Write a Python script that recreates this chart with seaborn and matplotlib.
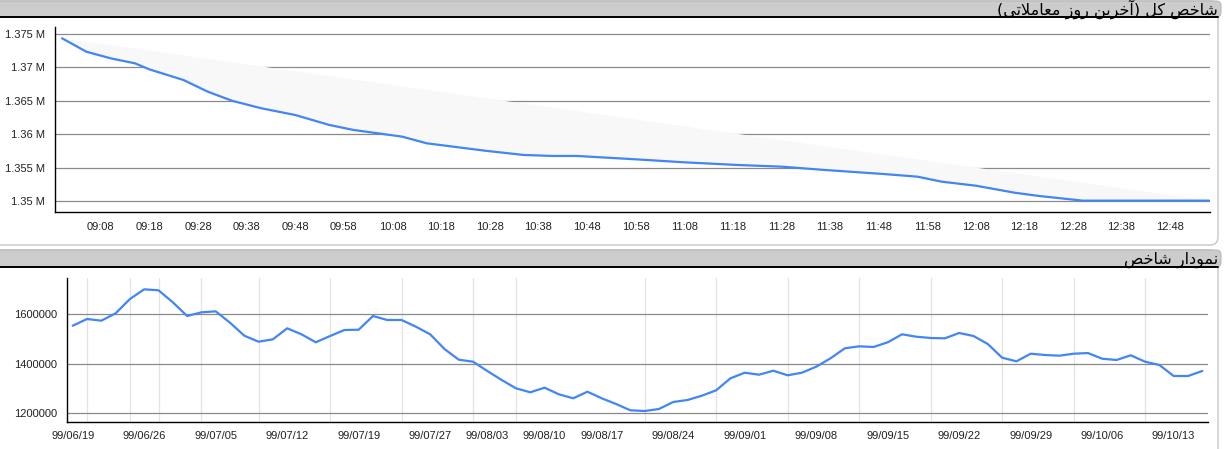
import numpy as np
import pandas as pd
import matplotlib
matplotlib.use("Agg")
import matplotlib.pyplot as plt
import seaborn as sns
from matplotlib.patches import FancyBboxPatch
from matplotlib.lines import Line2D
from matplotlib.transforms import IdentityTransform
from matplotlib.ticker import FuncFormatter

# intraday index (last trading day)
intraday_time = ["09:00", "09:05", "09:10", "09:15", "09:18", "09:25", "09:30", "09:35",
                 "09:41", "09:48", "09:55", "10:00", "10:10", "10:15", "10:27", "10:35",
                 "10:41", "10:46", "10:58", "11:08", "11:19", "11:28", "11:37", "11:49",
                 "11:56", "12:01", "12:08", "12:16", "12:21", "12:30", "12:56"]
intraday_value = [1374360, 1372350, 1371360, 1370610, 1369700, 1368110, 1366360, 1365000,
                  1363880, 1362870, 1361380, 1360630, 1359630, 1358640, 1357530, 1356890,
                  1356740, 1356740, 1356240, 1355790, 1355390, 1355140, 1354640, 1354040,
                  1353640, 1352890, 1352290, 1351240, 1350750, 1350050, 1350050]
intraday_ticks = ["09:08", "09:18", "09:28", "09:38", "09:48", "09:58", "10:08", "10:18",
                  "10:28", "10:38", "10:48", "10:58", "11:08", "11:18", "11:28", "11:38",
                  "11:48", "11:58", "12:08", "12:18", "12:28", "12:38", "12:48"]

# daily index, one value per trading day
daily_value = [1553900, 1581000, 1574200, 1604000, 1661800, 1701000, 1697000, 1648500,
               1593100, 1608000, 1612000, 1566100, 1513600, 1489300, 1499000, 1543400,
               1519200, 1486900, 1512300, 1536600, 1537800, 1593100, 1577000, 1577000,
               1550000, 1519200, 1459800, 1416600, 1408500, 1370900, 1334600, 1301000,
               1284900, 1303500, 1276800, 1260600, 1287300, 1260600, 1237600, 1212200,
               1209300, 1217400, 1245700, 1253800, 1271100, 1292900, 1341400, 1364100,
               1356000, 1372100, 1353600, 1364100, 1388300, 1422200, 1462600, 1470700,
               1467900, 1486900, 1519200, 1509500, 1504300, 1503000, 1524500, 1512300,
               1480000, 1424700, 1410100, 1440800, 1435600, 1432800, 1440800, 1443500,
               1420600, 1415400, 1434400, 1408500, 1395200, 1350700, 1350700, 1370900]
date_tick_idx = [0, 5, 10, 15, 20, 25, 29, 33, 37, 42, 47, 52, 57, 62, 67, 72, 77]
date_tick_labels = ["99/06/19", "99/06/26", "99/07/05", "99/07/12", "99/07/19", "99/07/27",
                    "99/08/03", "99/08/10", "99/08/17", "99/08/24", "99/09/01", "99/09/08",
                    "99/09/15", "99/09/22", "99/09/29", "99/10/06", "99/10/13"]
date_grid_idx = [0, 1, 4, 5, 6, 9, 10, 13, 15, 18, 20, 23, 25, 28, 29, 31, 33, 37, 40, 42,
                 45, 47, 50, 52, 55, 57, 60, 62, 65, 67, 70, 72, 75, 77]

title_top = "شاخص کل (آخرین روز معاملاتی)"
title_bottom = "نمودار شاخص"

# ---- crude persian shaping (matplotlib has no arabic text layout) ----
FORMS = {
    "ا": ("\uFE8D", "\uFE8E", None, None),
    "آ": ("\uFE81", "\uFE82", None, None),
    "\uFEFB": ("\uFEFB", "\uFEFC", None, None),  # lam-alef
    "ت": ("\uFE95", "\uFE96", "\uFE97", "\uFE98"),
    "خ": ("\uFEA5", "\uFEA6", "\uFEA7", "\uFEA8"),
    "د": ("\uFEA9", "\uFEAA", None, None),
    "ر": ("\uFEAD", "\uFEAE", None, None),
    "ز": ("\uFEAF", "\uFEB0", None, None),
    "ش": ("\uFEB5", "\uFEB6", "\uFEB7", "\uFEB8"),
    "ص": ("\uFEB9", "\uFEBA", "\uFEBB", "\uFEBC"),
    "ع": ("\uFEC9", "\uFECA", "\uFECB", "\uFECC"),
    "ل": ("\uFEDD", "\uFEDE", "\uFEDF", "\uFEE0"),
    "م": ("\uFEE1", "\uFEE2", "\uFEE3", "\uFEE4"),
    "ن": ("\uFEE5", "\uFEE6", "\uFEE7", "\uFEE8"),
    "و": ("\uFEED", "\uFEEE", None, None),
    "ک": ("\uFB8E", "\uFB8F", "\uFB90", "\uFB91"),
    "ی": ("\uFBFC", "\uFBFD", "\uFBFE", "\uFBFF"),
}


def joins_next(ch):
    return ch in FORMS and FORMS[ch][2] is not None


def shape_fa(text):
    text = text.replace("لا", "\uFEFB")
    res = []
    for i, ch in enumerate(text):
        if ch not in FORMS:
            res.append(ch)
            continue
        prev = text[i - 1] if i > 0 else ""
        nxt = text[i + 1] if i + 1 < len(text) else ""
        jp = joins_next(prev)
        jn = joins_next(ch) and nxt in FORMS
        iso, fin, ini, med = FORMS[ch]
        if jp and jn:
            res.append(med)
        elif jp:
            res.append(fin)
        elif jn:
            res.append(ini)
        else:
            res.append(iso)
    vis = "".join(reversed(res))
    return vis.translate(str.maketrans("()", ")("))


def minutes(t):
    h, m = t.split(":")
    return (int(h) - 9) * 60 + int(m)


df_day = pd.DataFrame({"minute": [minutes(t) for t in intraday_time], "value": intraday_value})
df_hist = pd.DataFrame({"idx": np.arange(len(daily_value)), "value": daily_value})

sns.set_style("white")
plt.rcParams["font.family"] = ["Liberation Sans", "DejaVu Sans"]

W, H = 1224, 449
fig = plt.figure(figsize=(W / 100, H / 100), dpi=100)
fig.patch.set_facecolor("white")


def box(x0, y0, x1, y1, z, **kw):
    p = FancyBboxPatch((x0, H - y1), x1 - x0, y1 - y0, transform=IdentityTransform(),
                       zorder=z, **kw)
    fig.add_artist(p)


def hline(x0, x1, y):
    fig.add_artist(Line2D([x0, x1], [H - y, H - y], transform=IdentityTransform(),
                          color="black", lw=1.4, zorder=-1))


# panels + headers
box(-20, 1, 1218, 245, -3, boxstyle="round,pad=0,rounding_size=8", fc="white", ec="#c6c6c6", lw=1)
box(-20, 1, 1221, 17, -2, boxstyle="round,pad=0,rounding_size=5", fc="#cccccc", ec="#b8b8b8", lw=0.8)
hline(0, 1218, 17)
box(-20, 250, 1218, 480, -3, boxstyle="round,pad=0,rounding_size=8", fc="white", ec="#c6c6c6", lw=1)
box(-20, 250, 1221, 267, -2, boxstyle="round,pad=0,rounding_size=5", fc="#cccccc", ec="#b8b8b8", lw=0.8)
hline(0, 1218, 267)

fig.text(1218 / W, 1 - 9.5 / H, shape_fa(title_top), ha="right", va="center",
         fontsize=11.5, family=["DejaVu Sans"], color="black")
fig.text(1218 / W, 1 - 259.5 / H, shape_fa(title_bottom), ha="right", va="center",
         fontsize=11.5, family=["DejaVu Sans"], color="black")

line_color = "#4285f4"
grid_color = "#8a8a8a"
text_color = "#222222"

# ---- top chart ----
ax1 = fig.add_axes([55 / W, 1 - 212 / H, (1210 - 55) / W, (212 - 27) / H])
ax1.set_facecolor("none")
ax1.fill(df_day["minute"], df_day["value"], color="#f8f8f8", lw=0, zorder=1)
sns.lineplot(data=df_day, x="minute", y="value", ax=ax1, color=line_color, lw=1.6, zorder=3)
ax1.set_xlim(-1.45, 236.2)
ax1.set_ylim(1348350, 1376050)
ax1.set_yticks([1350000, 1355000, 1360000, 1365000, 1370000, 1375000])
ax1.yaxis.set_major_formatter(FuncFormatter(lambda v, p: f"{v / 1e6:g} M"))
ax1.set_xticks([minutes(t) for t in intraday_ticks])
ax1.set_xticklabels(intraday_ticks)
ax1.grid(axis="y", color=grid_color, lw=0.9, zorder=0)
ax1.set_axisbelow(True)

# ---- bottom chart ----
ax2 = fig.add_axes([67 / W, 1 - 421.7 / H, (1208 - 67) / W, (421.7 - 278) / H])
ax2.set_facecolor("none")
sns.lineplot(data=df_hist, x="idx", y="value", ax=ax2, color=line_color, lw=1.6, zorder=3)
ax2.set_xlim(-0.4, 79.4)
ax2.set_ylim(1166100, 1746700)
ax2.set_yticks([1200000, 1400000, 1600000])
ax2.yaxis.set_major_formatter(FuncFormatter(lambda v, p: f"{int(v)}"))
ax2.set_xticks(date_tick_idx)
ax2.set_xticklabels(date_tick_labels)
ax2.set_xticks(date_grid_idx, minor=True)
ax2.grid(axis="y", color=grid_color, lw=0.9, zorder=0)
ax2.grid(axis="x", which="minor", color="#e4e4e4", lw=0.9, zorder=0)
ax2.tick_params(axis="x", which="minor", length=0)
ax2.set_axisbelow(True)

for ax in (ax1, ax2):
    ax.set_xlabel("")
    ax.set_ylabel("")
    for s in ("top", "right"):
        ax.spines[s].set_visible(False)
    for s in ("left", "bottom"):
        ax.spines[s].set_color("black")
        ax.spines[s].set_linewidth(1.0)
    ax.tick_params(axis="both", which="major", direction="out", length=4, width=0.9,
                   color="black", labelsize=8, labelcolor=text_color, pad=3)

fig.savefig("out.png", dpi=100)
